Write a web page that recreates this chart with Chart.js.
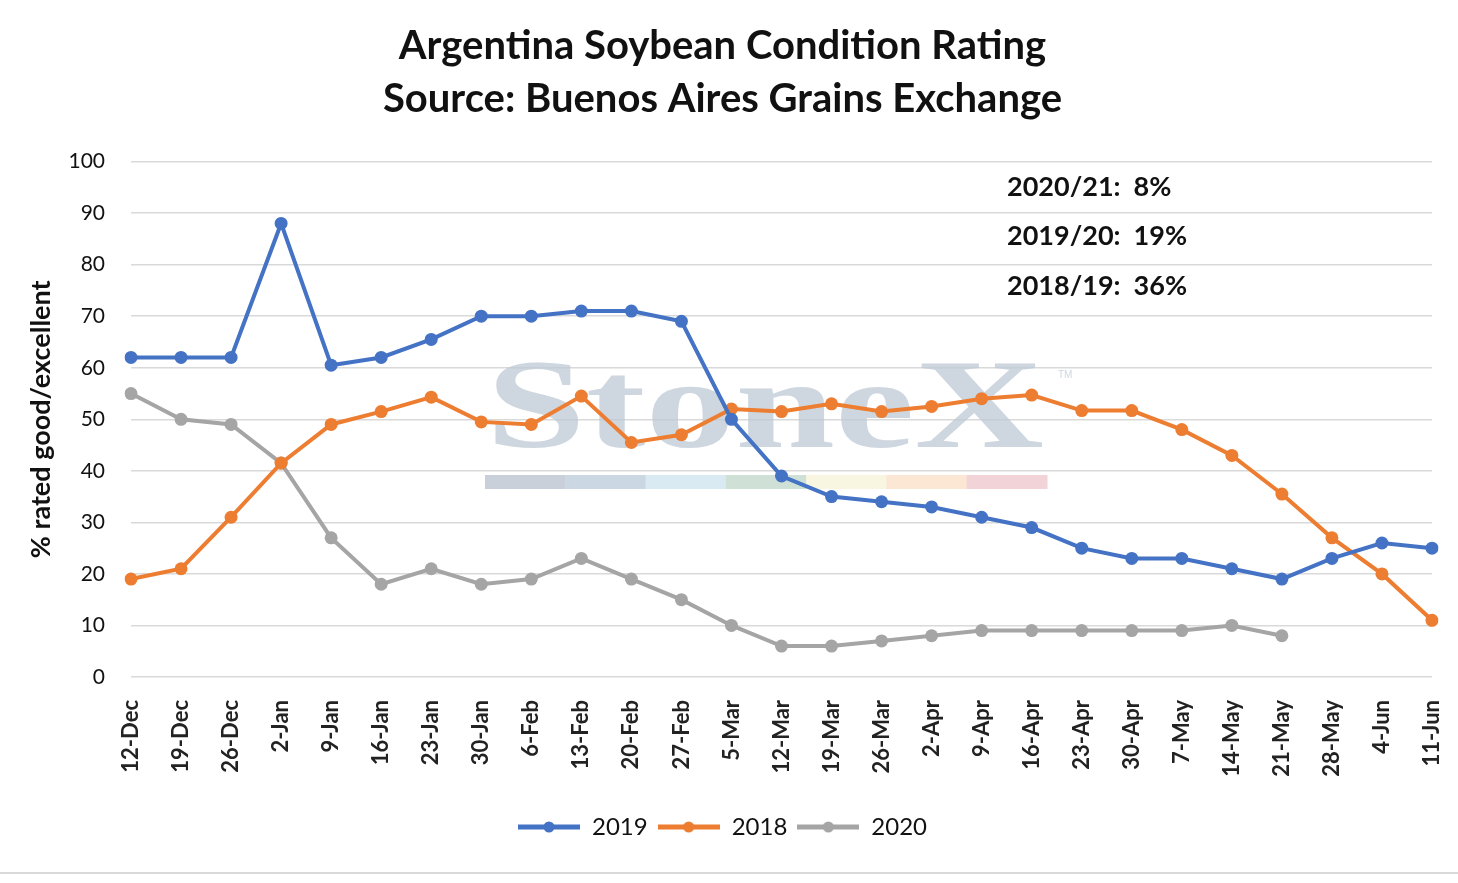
<!DOCTYPE html>
<html>
<head>
<meta charset="utf-8">
<script src="https://cdn.jsdelivr.net/npm/chart.js@4.4.0/dist/chart.umd.min.js"></script>
<style>
html,body{margin:0;padding:0;background:#fff;}
#wrap{width:1458px;height:883px;position:relative;}
</style>
</head>
<body>
<div id="wrap"><canvas id="c" width="1458" height="883"></canvas></div>
<script>
const categories = ["12-Dec","19-Dec","26-Dec","2-Jan","9-Jan","16-Jan","23-Jan","30-Jan","6-Feb","13-Feb","20-Feb","27-Feb","5-Mar","12-Mar","19-Mar","26-Mar","2-Apr","9-Apr","16-Apr","23-Apr","30-Apr","7-May","14-May","21-May","28-May","4-Jun","11-Jun"];
const series2019 = [62,62,62,88,60.5,62,65.5,70,70,71,71,69,50,39,35,34,33,31,29,25,23,23,21,19,23,26,25];
const series2018 = [19,21,31,41.5,49,51.5,54.3,49.5,49,54.5,45.5,47,52,51.5,53,51.5,52.5,54,54.7,51.7,51.7,48,43,35.5,27,20,11];
const series2020 = [55,50,49,41.5,27,18,21,18,19,23,19,15,10,6,6,7,8,9,9,9,9,9,10,8,null,null,null];
const yTicks = [0,10,20,30,40,50,60,70,80,90,100];
const notes = ["2020/21:  8%","2019/20:  19%","2018/19:  36%"];
const titleLines = ["Argentina Soybean Condition Rating","Source: Buenos Aires Grains Exchange"];

const C19 = "#4472C4", C18 = "#ED7D31", C20 = "#A5A5A5";

function legendIcon(color){
  const cv = document.createElement('canvas');
  cv.width = 62; cv.height = 14;
  const g = cv.getContext('2d');
  g.strokeStyle = color; g.lineWidth = 5;
  g.beginPath(); g.moveTo(0,7); g.lineTo(62,7); g.stroke();
  g.fillStyle = color; g.beginPath(); g.arc(31,7,5.5,0,Math.PI*2); g.fill();
  return cv;
}

const watermark = {
  id:'watermark',
  beforeDatasetsDraw(chart){
    const ctx = chart.ctx;
    ctx.save();
    ctx.fillStyle = 'rgba(190,200,212,0.75)';
    ctx.font = 'bold 128px "Liberation Serif"';
    ctx.textBaseline = 'alphabetic';
    const txt = 'StoneX';
    const w = ctx.measureText(txt).width;
    const targetW = 558;
    ctx.translate(486,447);
    ctx.scale(targetW/w,1);
    ctx.fillText(txt,0,0);
    ctx.restore();
    ctx.save();
    ctx.fillStyle = 'rgba(190,200,212,0.75)';
    ctx.font = '10px "Liberation Sans"';
    ctx.fillText('TM',1058,375);
    const cols = ['#c9d0da','#cbd8e3','#daeaf3','#cfe1d6','#f8f6e1','#fbe7d3','#f2d3d8'];
    const x0 = 485, x1 = 1047, segW = (x1-x0)/cols.length;
    cols.forEach((c,i)=>{ ctx.fillStyle=c; ctx.fillRect(x0+i*segW,475,segW+0.5,14); });
    ctx.restore();
  },
  afterDraw(chart){
    const ctx = chart.ctx;
    ctx.save();
    ctx.fillStyle = '#111';
    ctx.font = 'bold 27px Lato';
    ctx.textBaseline = 'middle';
    ctx.textAlign = 'left';
    const ys = [187,236,286];
    notes.forEach((t,i)=>ctx.fillText(t,1007,ys[i]));
    ctx.strokeStyle = '#d9d9d9'; ctx.lineWidth = 2;
    ctx.beginPath(); ctx.moveTo(0,873); ctx.lineTo(1458,873); ctx.stroke();
    ctx.restore();
  }
};

const mk = (label,data,color)=>({
  label, data, borderColor:color, backgroundColor:color,
  borderWidth:4, pointRadius:6.5, pointHoverRadius:6.5, pointBackgroundColor:color,
  pointBorderColor:color, pointBorderWidth:0, tension:0, spanGaps:false
});

new Chart(document.getElementById('c'),{
  type:'line',
  data:{ labels:categories, datasets:[mk('2019',series2019,C19),mk('2018',series2018,C18),mk('2020',series2020,C20)] },
  options:{
    responsive:false, animation:false, devicePixelRatio:1,
    layout:{ autoPadding:false, padding:{ left:13, right:26, top:0, bottom:34 } },
    plugins:{
      title:{ display:true, text:titleLines, color:'#111', font:{ family:'Lato', size:40, weight:'bold', lineHeight:1.32 }, padding:{ top:20, bottom:36 } },
      legend:{ position:'bottom', labels:{ usePointStyle:true, pointStyleWidth:62, boxHeight:14, color:'#111', font:{ family:'Lato', size:24 }, padding:10,
        generateLabels(chart){
          return chart.data.datasets.map((d,i)=>({ text:d.label, pointStyle:legendIcon(d.borderColor), fillStyle:d.borderColor, strokeStyle:d.borderColor, lineWidth:0, datasetIndex:i, hidden:false, fontColor:'#111' }));
        } } },
      tooltip:{ enabled:false }
    },
    scales:{
      x:{ offset:false, grid:{ display:false }, border:{ display:false },
        ticks:{ minRotation:90, maxRotation:90, autoSkip:false, color:'#222', padding:15, font:{ family:'Lato', size:22, weight:'bold' } },
        afterFit(s){ s.height = 128; s.paddingLeft = 0; s.paddingRight = 0; } },
      y:{ min:0, max:100, border:{ display:false },
        grid:{ color:'#d9d9d9', lineWidth:1.5, drawTicks:false },
        afterBuildTicks(s){ s.ticks = yTicks.map(v=>({value:v})); },
        ticks:{ color:'#111', padding:26, font:{ family:'Lato', size:21 } },
        title:{ display:true, text:'% rated good/excellent', color:'#111', font:{ family:'Lato', size:27, weight:'bold' }, padding:{ top:12, bottom:4 } },
        afterFit(s){ s.width = 118; s.paddingTop = 0; s.paddingBottom = 0; } }
    }
  },
  plugins:[watermark]
});
</script>
</body>
</html>
